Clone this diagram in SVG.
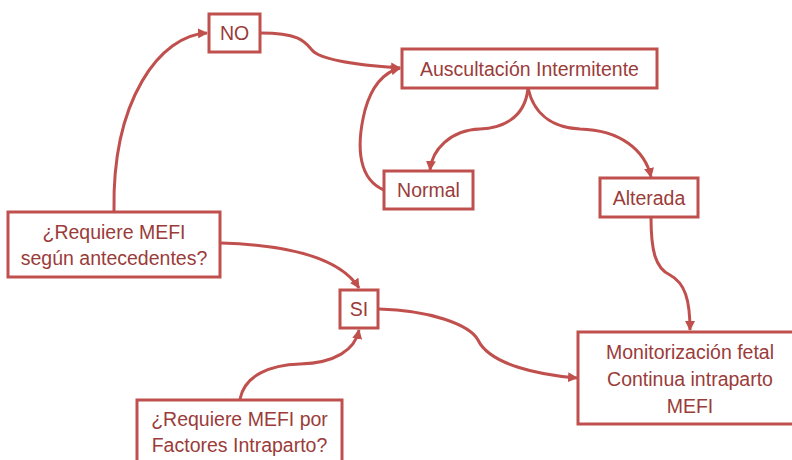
<svg xmlns="http://www.w3.org/2000/svg" width="792" height="460" viewBox="0 0 792 460">
  <style>
    .box { fill: #ffffff; stroke: #c0504d; stroke-width: 3; }
    .lbl { font-family: "Liberation Sans", "DejaVu Sans", sans-serif; font-size: 19.5px; fill: #9a3c3a; text-anchor: middle; }
    .edge { fill: none; stroke: #c0504d; stroke-width: 3; marker-end: url(#arrow); }
  </style>
  <defs>
    <marker id="arrow" viewBox="0 0 10 10" refX="9" refY="5" markerWidth="10" markerHeight="10" markerUnits="userSpaceOnUse" orient="auto">
      <path d="M0,0 L10,5 L0,10 Z" fill="#c0504d"/>
    </marker>
  </defs>
  <rect width="792" height="460" fill="#ffffff"/>

  <g id="connectors">
    <path class="edge" d="M114,211 C112,100 160,35 207,33"/>
    <path class="edge" d="M261,33 C300,33 305,42 312,50 C322,62 370,66 400,68"/>
    <path class="edge" d="M528,88 C525,120 500,128 480,129 C450,130 432,150 430,170"/>
    <path class="edge" d="M528,88 C535,120 560,128 580,129 C620,130 645,150 651,177"/>
    <path class="edge" d="M384,190 C360,180 355,150 365,110 C372,85 385,72 400,68"/>
    <path class="edge" d="M651,217 C651,250 655,268 670,275 C685,283 690,300 690,330"/>
    <path class="edge" d="M221,243 C290,245 340,258 359,288"/>
    <path class="edge" d="M240,399 C245,375 270,365 300,364 C335,363 355,350 359,330"/>
    <path class="edge" d="M379,309 C430,310 470,325 478,340 C490,365 540,375 577,378"/>
  </g>

  <g id="no">
    <rect class="box" x="209" y="14" width="51" height="38"/>
    <text class="lbl" x="234.5" y="40">NO</text>
  </g>
  <g id="auscultacion">
    <rect class="box" x="402" y="49" width="255" height="39"/>
    <text class="lbl" x="529.5" y="76">Auscultación Intermitente</text>
  </g>
  <g id="normal">
    <rect class="box" x="384" y="171" width="89" height="38"/>
    <text class="lbl" x="428.5" y="197">Normal</text>
  </g>
  <g id="alterada">
    <rect class="box" x="600" y="178" width="98" height="39"/>
    <text class="lbl" x="649" y="205">Alterada</text>
  </g>
  <g id="antecedentes">
    <rect class="box" x="8" y="212" width="212" height="65"/>
    <text class="lbl" x="114" y="239">¿Requiere MEFI</text>
    <text class="lbl" x="114" y="265">según antecedentes?</text>
  </g>
  <g id="si">
    <rect class="box" x="340" y="290" width="38" height="38"/>
    <text class="lbl" x="359" y="316">SI</text>
  </g>
  <g id="factores">
    <rect class="box" x="137" y="400" width="205" height="64"/>
    <text class="lbl" x="239.5" y="426">¿Requiere MEFI por</text>
    <text class="lbl" x="239.5" y="452">Factores Intraparto?</text>
  </g>
  <g id="monitorizacion">
    <rect class="box" x="578" y="332" width="218" height="92"/>
    <text class="lbl" x="690" y="359">Monitorización fetal</text>
    <text class="lbl" x="690" y="386">Continua intraparto</text>
    <text class="lbl" x="690" y="413">MEFI</text>
  </g>
</svg>
